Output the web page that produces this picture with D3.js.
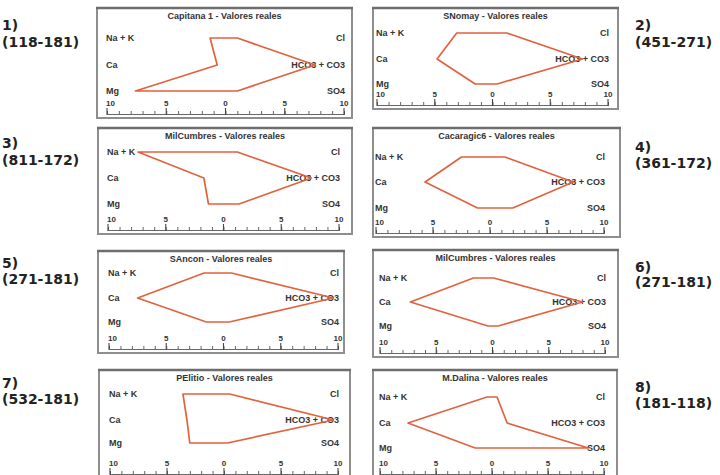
<!DOCTYPE html>
<html>
<head>
<meta charset="utf-8">
<script src="https://cdn.jsdelivr.net/npm/d3@7"></script>
<style>
  html, body { margin: 0; padding: 0; background: #fff; }
  svg { display: block; }
</style>
</head>
<body>
<svg id="chart" width="720" height="475"></svg>
<script>
// Stiff diagrams of eight water samples (meq/L, "valores reales").
const numbers = ["1)", "2)", "3)", "4)", "5)", "6)", "7)", "8)"];
const codes = ["(118-181)", "(451-271)", "(811-172)", "(361-172)",
               "(271-181)", "(271-181)", "(532-181)", "(181-118)"];
const titles = ["Capitana 1 - Valores reales", "SNomay - Valores reales",
                "MilCumbres - Valores reales", "Cacaragic6 - Valores reales",
                "SAncon - Valores reales", "MilCumbres - Valores reales",
                "PElitio - Valores reales", "M.Dalina - Valores reales"];
const cationLabels = ["Na + K", "Ca", "Mg"];
const anionLabels = ["Cl", "HCO3 + CO3", "SO4"];
// cations per sample: Na+K, Ca, Mg
const cations = [
  [1.3, 0.7, 7.6],
  [3.1, 4.8, 1.5],
  [7.4, 1.7, 1.3],
  [2.5, 5.7, 1.1],
  [1.7, 7.5, 1.5],
  [1.7, 7.3, 0.4],
  [3.6, 3.25, 3.0],
  [0.45, 7.5, 1.5]
];
// anions per sample: Cl, HCO3+CO3, SO4
const anions = [
  [1.0, 7.55, 1.0],
  [1.25, 7.8, 0.4],
  [1.2, 7.6, 1.35],
  [1.3, 7.3, 2.0],
  [0.7, 9.6, 0.5],
  [0.1, 8.0, 0.5],
  [0.5, 9.6, 0.3],
  [0.45, 1.35, 8.6]
];
const tickValues = [-10, -5, 0, 5, 10];
const tickLabels = ["10", "5", "0", "5", "10"];

// frame box, x-range of the -10..10 axis, row offsets and side-label placement per panel
const layout = [
  { x: 97,  y: 8,   w: 255, h: 110, x0: 107, x1: 344, rows: [30, 57, 83], side: "left",  numY: 25,  codeY: 42 },
  { x: 373, y: 8,   w: 245, h: 101, x0: 377, x1: 608, rows: [25, 51, 76], side: "right", numY: 25,  codeY: 42 },
  { x: 98,  y: 128, w: 254, h: 106, x0: 108, x1: 339, rows: [24, 50, 76], side: "left",  numY: 143, codeY: 160 },
  { x: 373, y: 128, w: 247, h: 109, x0: 376, x1: 604, rows: [29, 54, 80], side: "right", numY: 147, codeY: 163 },
  { x: 98,  y: 251, w: 246, h: 102, x0: 109, x1: 338, rows: [22, 47, 71], side: "left",  numY: 263, codeY: 279 },
  { x: 373, y: 250, w: 245, h: 107, x0: 380, x1: 605, rows: [28, 52, 76], side: "right", numY: 267, codeY: 282 },
  { x: 99,  y: 370, w: 251, h: 108, x0: 110, x1: 338, rows: [24, 50, 73], side: "left",  numY: 383, codeY: 399 },
  { x: 373, y: 370, w: 244, h: 108, x0: 380, x1: 604, rows: [27, 53, 78], side: "right", numY: 387, codeY: 403 }
];

const svg = d3.select("#chart");
const font = "'Liberation Sans', Arial, sans-serif";
const sideFont = "'DejaVu Sans', sans-serif";

layout.forEach((L, i) => {
  const g = svg.append("g").attr("transform", `translate(${L.x},${L.y})`);

  g.append("rect")
    .attr("x", 0).attr("y", 0).attr("width", L.w).attr("height", L.h)
    .attr("fill", "#fff").attr("stroke", "#8e8e8e").attr("stroke-width", 2);
  g.append("line")
    .attr("x1", -1).attr("x2", L.w + 1).attr("y1", 0).attr("y2", 0)
    .attr("stroke", "#6e6e6e").attr("stroke-width", 2.5);

  const x = d3.scaleLinear().domain([-10, 10]).range([L.x0 - L.x, L.x1 - L.x]);
  const y = d3.scaleOrdinal().domain([0, 1, 2]).range(L.rows);

  g.append("text")
    .attr("x", L.w / 2).attr("y", 10.5)
    .attr("text-anchor", "middle")
    .attr("font-family", font).attr("font-weight", "bold").attr("font-size", 9)
    .attr("fill", "#333")
    .text(titles[i]);

  // row labels
  cationLabels.forEach((t, r) => {
    g.append("text").attr("x", x(-10) - 1).attr("y", y(r)).attr("dy", "0.35em")
      .attr("font-family", font).attr("font-weight", "bold").attr("font-size", 9)
      .attr("fill", "#333").text(t);
  });
  anionLabels.forEach((t, r) => {
    g.append("text").attr("x", x(10) + 1).attr("y", y(r)).attr("dy", "0.35em")
      .attr("text-anchor", "end")
      .attr("font-family", font).attr("font-weight", "bold").attr("font-size", 9)
      .attr("fill", "#333").text(t);
  });

  // Stiff polygon: cations on the left, anions on the right
  const pts = [
    [-cations[i][0], 0], [anions[i][0], 0], [anions[i][1], 1], [anions[i][2], 2],
    [-cations[i][2], 2], [-cations[i][1], 1]
  ];
  g.append("path")
    .attr("d", d3.line().x(d => x(d[0])).y(d => y(d[1]))(pts) + "Z")
    .attr("fill", "none").attr("stroke", "#e2623f").attr("stroke-width", 1.7)
    .attr("stroke-linejoin", "round");

  // bottom axis: minor ticks each unit, major ticks with labels every 5
  const base = L.h - 4;
  const axisG = g.append("g").attr("transform", `translate(0,${base})`);
  axisG.call(d3.axisBottom(x).tickValues(d3.range(-10, 11, 1)).tickSize(-3).tickFormat(""));
  axisG.selectAll(".tick line").attr("stroke", "#555").attr("stroke-width", 0.9);
  axisG.select(".domain").attr("stroke", "#555").attr("stroke-width", 0.9);
  tickValues.forEach((v, k) => {
    g.append("line").attr("x1", x(v)).attr("x2", x(v))
      .attr("y1", base + 1).attr("y2", base - 6)
      .attr("stroke", "#444").attr("stroke-width", 1.1);
    g.append("text").attr("x", k === 0 ? x(v) - 1 : x(v)).attr("y", base - 8)
      .attr("text-anchor", k === 0 ? "start" : "middle")
      .attr("font-family", font).attr("font-weight", "bold").attr("font-size", 8)
      .attr("fill", "#333").text(tickLabels[k]);
  });

  // sample number and code beside the panel
  const lx = L.side === "left" ? 2 : 635;
  svg.append("text").attr("x", lx).attr("y", L.numY + 5)
    .attr("font-family", sideFont).attr("font-weight", "bold").attr("font-size", 14)
    .attr("fill", "#222").text(numbers[i]);
  svg.append("text").attr("x", lx).attr("y", L.codeY + 5)
    .attr("font-family", sideFont).attr("font-weight", "bold").attr("font-size", 14)
    .attr("fill", "#222").text(codes[i]);
});
</script>
</body>
</html>
